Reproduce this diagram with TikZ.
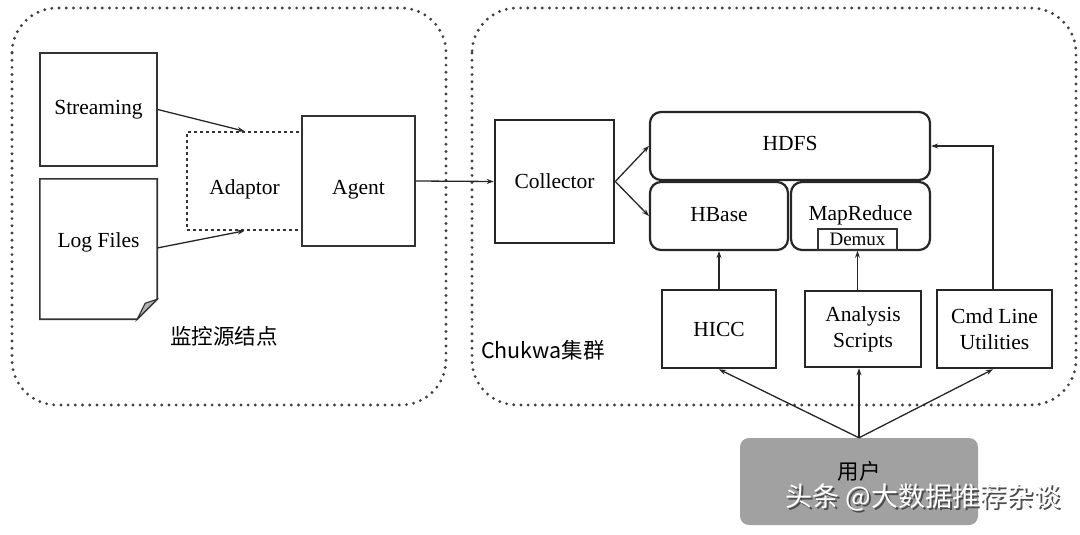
\documentclass[tikz,border=0pt]{standalone}
\usepackage{fontspec}
\setmainfont{Liberation Serif}
\newfontfamily\cjk{Noto Sans CJK SC}
\usetikzlibrary{arrows.meta, calc, positioning}

\tikzset{
  region/.style={draw=black!75, line width=3.2pt, dash pattern=on 0pt off 7.2pt, line cap=round, rounded corners=45pt},
  srcbox/.style={draw=black!80, line width=1.6pt, minimum width=117pt, inner sep=0pt},
  thinbox/.style={draw=black!80, line width=1.6pt, inner sep=0pt},
  thickbox/.style={draw=black!85, line width=2.6pt, inner sep=0pt, align=center},
  store/.style={draw=black!85, line width=2.2pt, rounded corners=11pt, inner sep=0pt},
  arr/.style={draw=black!85, line width=1.3pt, -{Stealth[length=7pt,width=5pt]}},
  txt/.style={font=\fontsize{21.5}{26}\selectfont},
  cjktxt/.style={font=\cjk\fontsize{21.5}{24}\selectfont}
}

\begin{document}
\begin{tikzpicture}[x=1pt, y=-1pt, txt]
    \useasboundingbox (0,0) rectangle (1080,535);
    % dotted regions
    \draw[region] (12,8) rectangle (446,405);
    \draw[region] (472,8) rectangle (1076,405);
    \node[cjktxt] (srclab) at (224,336) {监控源结点};
    \node[cjktxt] (clulab) at (543,350) {Chukwa集群};

    % source node
    \node[srcbox, minimum height=113pt] (stream) at (98.5,109.5) {Streaming};
    \node[minimum width=117pt, minimum height=140pt, inner sep=0pt] (logf) at (98.5,249) {};
    \node (logtxt) at (98.5,242) {Log Files};
    \draw[draw=black!80, line width=1.6pt] (logf.north west) -- (logf.north east)
        -- ($(logf.south east)+(0,-20)$) -- ($(logf.south east)+(-20,0)$)
        -- (logf.south west) -- cycle;
    \filldraw[fill=gray!60, draw=black!80, line width=1.1pt] ($(logf.south east)+(0,-20)$)
        -- ($(logf.south east)+(-20,0)$) -- ($(logf.south east)+(-12,-16)$) -- cycle;
    \node[thinbox, dashed, minimum width=115pt, minimum height=98pt] (adapt) at (244.5,181) {};
    \node (adtxt) at (244.5,189) {Adaptor};
    \node[thinbox, minimum width=113pt, minimum height=130pt] (agent) at (358.5,181) {};
    \node (agtxt) at (358.5,190) {Agent};
    \draw[arr] (stream.east) -- (adapt.north);
    \draw[arr] (logf.east |- 0,248) -- (adapt.south);

    % cluster
    \node[thickbox, minimum width=119pt, minimum height=123pt] (coll) at (554.5,181.5) {Collector};
    \draw[arr] (agent.east) -- (coll.west);
    \node[store, minimum width=280pt, minimum height=68pt] (hdfs) at (790,146) {};
    \node (hdfstxt) at (790,143) {HDFS};
    \node[store, minimum width=138pt, minimum height=68pt] (hbase) at (719,216) {};
    \node (hbtxt) at (719,215) {HBase};
    \node[store, minimum width=139pt, minimum height=68pt] (mapr) at (860.5,216) {};
    \node (mrtxt) at (860.5,215) {MapReduce};
    \node[thinbox, minimum width=79pt, minimum height=21pt, font=\fontsize{19}{20}\selectfont] (demux) at (857.5,239.5) {Demux};
    \draw[arr] (coll.east) -- (hdfs.west);
    \draw[arr] (coll.east) -- (hbase.west);

    \node[thickbox, minimum width=114pt, minimum height=78pt] (hicc) at (719,329) {HICC};
    \node[thickbox, minimum width=116pt, minimum height=76pt] (ana) at (863,329) {Analysis\\Scripts};
    \node[thickbox, minimum width=115pt, minimum height=78pt] (cmd) at (994.5,329) {Cmd Line\\Utilities};
    \draw[arr] (hicc.north) -- (hbase.south);
    \draw[arr] (ana.north -| demux.south) -- (demux.south);
    \draw[arr] (cmd.north -| 993,0) |- (hdfs.east);

    % user
    \node[fill=black!37, rounded corners=9pt, minimum width=238pt, minimum height=87pt] (user) at (859,481.5) {};
    \node[cjktxt] (usrtxt) at (859,471) {用户};
    \draw[arr] (user.north) -- (hicc.south);
    \draw[arr] (user.north) -- (ana.south -| user.north);
    \draw[arr] (user.north) -- (cmd.south -| 993,0);

    % watermark
    \node[font=\cjk\fontsize{27}{28}\selectfont, text=black!70] (wmshadow) at (925,499) {头条 @大数据推荐杂谈};
    \node[font=\cjk\fontsize{27}{28}\selectfont, text=white] (wmark) at (923,497) {头条 @大数据推荐杂谈};
\end{tikzpicture}
\end{document}
